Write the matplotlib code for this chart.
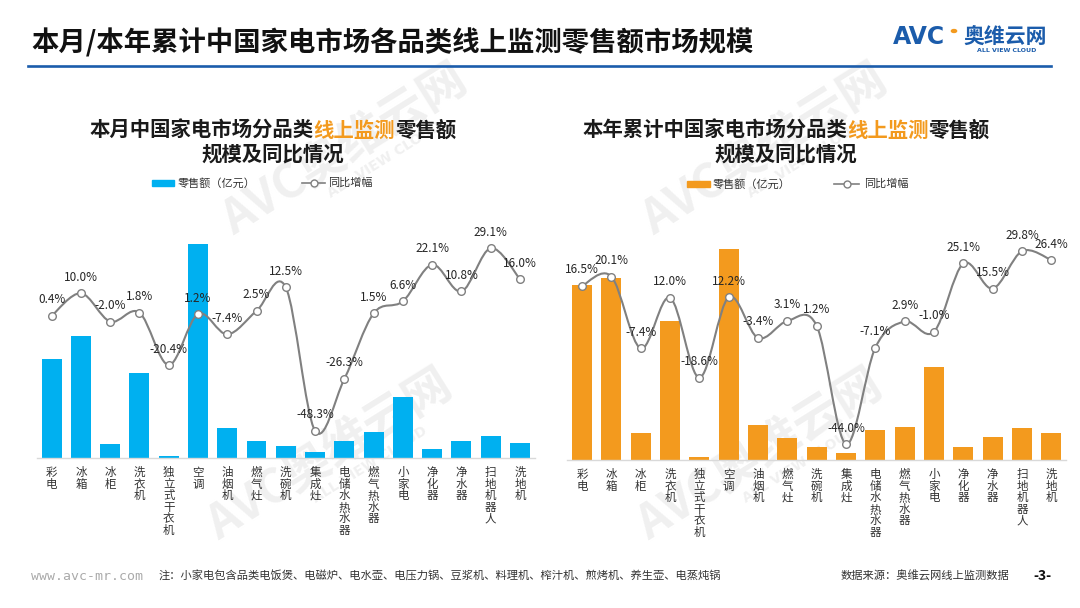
import matplotlib
matplotlib.use('Agg')
import matplotlib.pyplot as plt
from matplotlib.path import Path
from matplotlib.patches import PathPatch, Rectangle, Circle
from matplotlib.lines import Line2D

plt.rcParams['font.family'] = ['Noto Sans CJK SC', 'DejaVu Sans']

# ---------------- data ----------------
categories = ['彩电', '冰箱', '冰柜', '洗衣机', '独立式干衣机', '空调', '油烟机', '燃气灶', '洗碗机',
              '集成灶', '电储水热水器', '燃气热水器', '小家电', '净化器', '净水器', '扫地机器人', '洗地机']
month_sales = [49.5, 61, 7, 42.5, 1, 107, 15, 8.5, 6, 3, 8.5, 13, 30.5, 4.5, 8.5, 11, 7.5]
month_yoy = [0.4, 10.0, -2.0, 1.8, -20.4, 1.2, -7.4, 2.5, 12.5, -48.3, -26.3, 1.5, 6.6, 22.1, 10.8, 29.1, 16.0]
ytd_sales = [875, 910, 135, 695, 15, 1055, 175, 110, 65, 35, 150, 165, 465, 65, 115, 160, 135]
ytd_yoy = [16.5, 20.1, -7.4, 12.0, -18.6, 12.2, -3.4, 3.1, 1.2, -44.0, -7.1, 2.9, -1.0, 25.1, 15.5, 29.8, 26.4]

main_title = '本月/本年累计中国家电市场各品类线上监测零售额市场规模'
left_title = [('本月中国家电市场分品类', '#1a1a1a'), ('线上监测', '#F39A1E'), ('零售额', '#1a1a1a')]
right_title = [('本年累计中国家电市场分品类', '#1a1a1a'), ('线上监测', '#F39A1E'), ('零售额', '#1a1a1a')]
title_line2 = '规模及同比情况'
legend_bar = '零售额（亿元）'
legend_line = '同比增幅'
note = '注：小家电包含品类电饭煲、电磁炉、电水壶、电压力锅、豆浆机、料理机、榨汁机、煎烤机、养生壶、电蒸炖锅'
source = '数据来源：奥维云网线上监测数据'

W, H = 1080, 608
BLUE = '#00B0F0'
ORANGE = '#F39A1E'
LOGO_BLUE = '#1B5CAB'
GRAY = '#808080'

fig = plt.figure(figsize=(W / 100, H / 100), dpi=100)
fig.patch.set_facecolor('white')


def fx(x):
    return x / W


def fy(y):
    return 1 - y / H


# ---------------- watermarks ----------------
for (cx, cy) in [(345, 150), (765, 150), (330, 455), (760, 455)]:
    fig.text(fx(cx), fy(cy), 'AVC奥维云网', fontsize=34, fontweight='bold', color='#f0f0f0',
             rotation=32, ha='center', va='center', zorder=-5)
    fig.text(fx(cx + 40), fy(cy + 10), 'ALL VIEW CLOUD', fontsize=10, fontweight='bold', color='#f0f0f0',
             rotation=32, ha='center', va='center', zorder=-5, family='DejaVu Sans')


def smooth_path(xs, ys):
    verts = [(xs[0], ys[0])]
    codes = [Path.MOVETO]
    n = len(xs)
    for i in range(n - 1):
        p0 = (xs[i - 1], ys[i - 1]) if i > 0 else (xs[i], ys[i])
        p1 = (xs[i], ys[i])
        p2 = (xs[i + 1], ys[i + 1])
        p3 = (xs[i + 2], ys[i + 2]) if i + 2 < n else p2
        c1 = (p1[0] + (p2[0] - p0[0]) / 6, p1[1] + (p2[1] - p0[1]) / 6)
        c2 = (p2[0] - (p3[0] - p1[0]) / 6, p2[1] - (p3[1] - p1[1]) / 6)
        verts += [c1, c2, p2]
        codes += [Path.CURVE4] * 3
    return Path(verts, codes)


def make_chart(x0, x1, ytop, ybot, sales, yoy, color, bar_max, line_lim):
    ax = fig.add_axes([fx(x0), fy(ybot), fx(x1) - fx(x0), fy(ytop) - fy(ybot)])
    ax.set_facecolor('none')
    xs = list(range(len(categories)))
    ax.bar(xs, sales, width=0.68, color=color, zorder=2)
    ax.set_xlim(-0.5, len(categories) - 0.5)
    ax.set_ylim(0, bar_max)
    for s in ['top', 'right', 'left']:
        ax.spines[s].set_visible(False)
    ax.spines['bottom'].set_color('#d9d9d9')
    ax.spines['bottom'].set_linewidth(1.0)
    ax.set_yticks([])
    ax.set_xticks(xs)
    ax.set_xticklabels([''] * len(xs))
    ax.tick_params(axis='x', length=0)
    # vertical (stacked) category labels, one character per row
    for i, name in enumerate(categories):
        for j, ch in enumerate(name):
            ax.annotate(ch, xy=(i, 0), xycoords=('data', 'axes fraction'),
                        xytext=(0, -(10.6 + j * 8.3)), textcoords='offset points',
                        ha='center', va='center', fontsize=8.3, color='#333333',
                        annotation_clip=False)

    ax2 = ax.twinx()
    ax2.set_facecolor('none')
    ax2.set_ylim(*line_lim)
    ax2.set_yticks([])
    for s in ax2.spines.values():
        s.set_visible(False)
    patch = PathPatch(smooth_path(xs, yoy), fill=False, edgecolor=GRAY, linewidth=1.5, zorder=3)
    ax2.add_patch(patch)
    ax2.plot(xs, yoy, linestyle='none', marker='o', markersize=5.5, markerfacecolor='white',
             markeredgecolor=GRAY, markeredgewidth=1.0, zorder=4)
    for x, v in zip(xs, yoy):
        ax2.annotate(f'{v:.1f}%', (x, v), xytext=(0, 11.5), textcoords='offset points',
                     ha='center', va='center', fontsize=8.5, color='#262626', zorder=5,
                     annotation_clip=False)
    return ax, ax2


make_chart(37, 534.6, 230, 458, month_sales, month_yoy, BLUE, 114, (-59.8, 36.8))
make_chart(567.4, 1066, 230, 460, ytd_sales, ytd_yoy, ORANGE, 1150, (-50.1, 37.9))

# ---------------- header ----------------
fig.text(fx(31), fy(43), main_title, fontsize=19.7, fontweight='bold', color='#111111',
         ha='left', va='center')
fig.add_artist(Line2D([fx(28), fx(1051)], [fy(66), fy(66)], color=LOGO_BLUE, linewidth=1.9,
                      transform=fig.transFigure))
# logo
fig.text(fx(893), fy(37), 'AVC', fontsize=17, fontweight='heavy', color=LOGO_BLUE,
         ha='left', va='center', family='DejaVu Sans')
fig.add_artist(Circle((fx(954), fy(31)), 2.6 / W, color=ORANGE, transform=fig.transFigure))
fig.text(fx(963), fy(36), '奥维云网', fontsize=15, fontweight='bold', color=LOGO_BLUE,
         ha='left', va='center')
fig.text(fx(1007), fy(50), 'ALL VIEW CLOUD', fontsize=4.5, fontweight='bold', color=LOGO_BLUE,
         ha='center', va='center', family='DejaVu Sans')

# ---------------- sub titles ----------------
renderer = fig.canvas.get_renderer()


def mixed_line(cx, y, parts, size):
    texts = []
    total = 0
    for s, c in parts:
        t = fig.text(0, fy(y), s, fontsize=size, fontweight='bold', color=c, ha='left', va='center')
        w = t.get_window_extent(renderer).width
        texts.append((t, w))
        total += w
    x = cx - total / 2
    for t, w in texts:
        t.set_x(fx(x))
        x += w


mixed_line(273, 130, left_title, 14.7)
fig.text(fx(273), fy(154), title_line2, fontsize=14.7, fontweight='bold', color='#1a1a1a',
         ha='center', va='center')
mixed_line(786, 130, right_title, 14.7)
fig.text(fx(786), fy(154), title_line2, fontsize=14.7, fontweight='bold', color='#1a1a1a',
         ha='center', va='center')


# ---------------- legends ----------------
def legend(rx0, rx1, tx1, lx0, lx1, tx2, y, color):
    fig.add_artist(Rectangle((fx(rx0), fy(y + 2.5)), fx(rx1) - fx(rx0), 5.5 / H, color=color,
                             transform=fig.transFigure))
    fig.text(fx(tx1), fy(y), legend_bar, fontsize=8, color='#333333', ha='left', va='center')
    fig.add_artist(Line2D([fx(lx0), fx(lx1)], [fy(y), fy(y)], color=GRAY, linewidth=1.2,
                          transform=fig.transFigure))
    fig.add_artist(Line2D([fx((lx0 + lx1) / 2)], [fy(y)], marker='o', markersize=5,
                          markerfacecolor='white', markeredgecolor=GRAY, markeredgewidth=1.0,
                          transform=fig.transFigure))
    fig.text(fx(tx2), fy(y), legend_line, fontsize=8, color='#333333', ha='left', va='center')


legend(152, 174, 178, 302, 325, 328, 183, BLUE)
legend(687, 710, 713, 834, 859, 864, 184, ORANGE)

# ---------------- footer ----------------
fig.text(fx(31), fy(576), 'www.avc-mr.com', fontsize=9.5, color='#aaaaaa', ha='left', va='center',
         family='DejaVu Sans Mono')
fig.text(fx(159), fy(576), note, fontsize=8.1, color='#333333', ha='left', va='center')
fig.text(fx(841), fy(576), source, fontsize=8.1, color='#333333', ha='left', va='center')
fig.text(fx(1033), fy(576), '-3-', fontsize=10, fontweight='bold', color='#111111', ha='left',
         va='center')

fig.savefig('out.png', dpi=100)
